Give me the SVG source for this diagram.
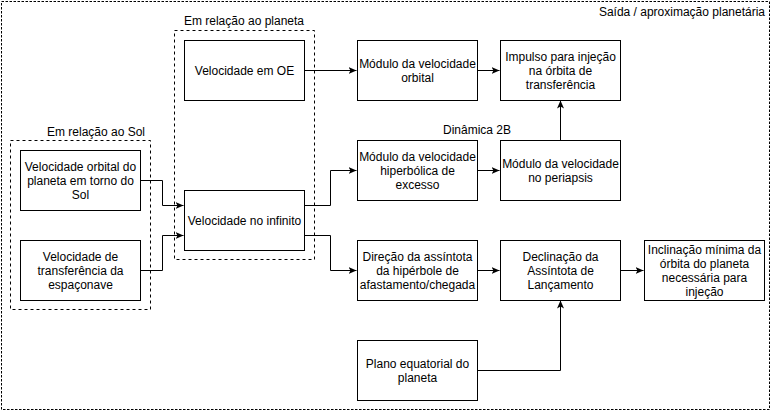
<svg xmlns="http://www.w3.org/2000/svg" width="771" height="411" viewBox="0 0 771 411">
<style>
.node rect{fill:#fff;stroke:#000;stroke-width:1}
.grp{fill:none;stroke:#000;stroke-width:1;stroke-dasharray:3 3}
.outer{fill:none;stroke:#000;stroke-width:1;stroke-dasharray:2.5 1.5}
text{font-family:"Liberation Sans",Arial,sans-serif;font-size:12px;fill:#000}
.c{text-anchor:middle}
.conn path{fill:none;stroke:#000;stroke-width:1}
</style>
<defs>
<marker id="arr" markerUnits="userSpaceOnUse" viewBox="0 0 8 7" markerWidth="8" markerHeight="7" refX="8" refY="3.5" orient="auto">
<path d="M0,0 L8,3.5 L0,7 L2,3.5 z" fill="#000"/>
</marker>
</defs>
<rect width="771" height="411" fill="#fff"/>

<g id="grp-saida">
<rect class="outer" x="1.5" y="1.5" width="768" height="408"/>
<text x="765" y="16" text-anchor="end">Saída / aproximação planetária</text>
</g>
<g id="grp-planeta">
<rect class="grp" x="174.5" y="30.5" width="140" height="229"/>
<text class="c" x="244" y="25">Em relação ao planeta</text>
</g>
<g id="grp-sol">
<rect class="grp" x="10.5" y="140.5" width="140" height="169"/>
<text class="c" x="96" y="136">Em relação ao Sol</text>
</g>
<g id="lbl-dinamica">
<text class="c" x="477" y="134">Dinâmica 2B</text>
</g>

<g class="conn" id="connectors">
<path d="M304.5,70.5 H356.5" marker-end="url(#arr)"/>
<path d="M477.5,70.5 H499.5" marker-end="url(#arr)"/>
<path d="M140.5,180.5 H162.5 V205.5 H183.5" marker-end="url(#arr)"/>
<path d="M140.5,270.5 H162.5 V235.5 H183.5" marker-end="url(#arr)"/>
<path d="M304.5,205.5 H330.5 V170.5 H356.5" marker-end="url(#arr)"/>
<path d="M304.5,235.5 H330.5 V270.5 H356.5" marker-end="url(#arr)"/>
<path d="M477.5,170.5 H499.5" marker-end="url(#arr)"/>
<path d="M560.5,140.5 V100.5" marker-end="url(#arr)"/>
<path d="M477.5,270.5 H499.5" marker-end="url(#arr)"/>
<path d="M620.5,270.5 H643.5" marker-end="url(#arr)"/>
<path d="M477.5,370.5 H560.5 V300.5" marker-end="url(#arr)"/>
</g>

<g class="node" id="n-oe">
<rect x="184.5" y="40.5" width="120" height="60"/>
<text class="c" x="244.5" y="74.5">Velocidade em OE</text>
</g>
<g class="node" id="n-modorb">
<rect x="357.5" y="40.5" width="120" height="60"/>
<text class="c" x="417.5" y="67.5">Módulo da velocidade</text>
<text class="c" x="417.5" y="81.5">orbital</text>
</g>
<g class="node" id="n-impulso">
<rect x="500.5" y="40.5" width="120" height="60"/>
<text class="c" x="560.5" y="60.5">Impulso para injeção</text>
<text class="c" x="560.5" y="74.5">na órbita de</text>
<text class="c" x="560.5" y="88.5">transferência</text>
</g>
<g class="node" id="n-vorbsol">
<rect x="20.5" y="150.5" width="120" height="60"/>
<text class="c" x="80.5" y="170.5">Velocidade orbital do</text>
<text class="c" x="80.5" y="184.5">planeta em torno do</text>
<text class="c" x="80.5" y="198.5">Sol</text>
</g>
<g class="node" id="n-vtransf">
<rect x="20.5" y="240.5" width="120" height="60"/>
<text class="c" x="80.5" y="260.5">Velocidade de</text>
<text class="c" x="80.5" y="274.5">transferência da</text>
<text class="c" x="80.5" y="288.5">espaçonave</text>
</g>
<g class="node" id="n-vinf">
<rect x="184.5" y="190.5" width="120" height="60"/>
<text class="c" x="244.5" y="224.5">Velocidade no infinito</text>
</g>
<g class="node" id="n-hiper">
<rect x="357.5" y="140.5" width="120" height="60"/>
<text class="c" x="417.5" y="160.5">Módulo da velocidade</text>
<text class="c" x="417.5" y="174.5">hiperbólica de</text>
<text class="c" x="417.5" y="188.5">excesso</text>
</g>
<g class="node" id="n-peri">
<rect x="500.5" y="140.5" width="120" height="60"/>
<text class="c" x="560.5" y="167.5">Módulo da velocidade</text>
<text class="c" x="560.5" y="181.5">no periapsis</text>
</g>
<g class="node" id="n-direcao">
<rect x="357.5" y="240.5" width="120" height="60"/>
<text class="c" x="417.5" y="260.5">Direção da assíntota</text>
<text class="c" x="417.5" y="274.5">da hipérbole de</text>
<text class="c" x="417.5" y="288.5">afastamento/chegada</text>
</g>
<g class="node" id="n-declin">
<rect x="500.5" y="240.5" width="120" height="60"/>
<text class="c" x="560.5" y="260.5">Declinação da</text>
<text class="c" x="560.5" y="274.5">Assíntota de</text>
<text class="c" x="560.5" y="288.5">Lançamento</text>
</g>
<g class="node" id="n-inclin">
<rect x="644.5" y="240.5" width="120" height="60"/>
<text class="c" x="704.5" y="253.5">Inclinação mínima da</text>
<text class="c" x="704.5" y="267.5">órbita do planeta</text>
<text class="c" x="704.5" y="281.5">necessária para</text>
<text class="c" x="704.5" y="295.5">injeção</text>
</g>
<g class="node" id="n-plano">
<rect x="357.5" y="340.5" width="120" height="60"/>
<text class="c" x="417.5" y="367.5">Plano equatorial do</text>
<text class="c" x="417.5" y="381.5">planeta</text>
</g>
</svg>
